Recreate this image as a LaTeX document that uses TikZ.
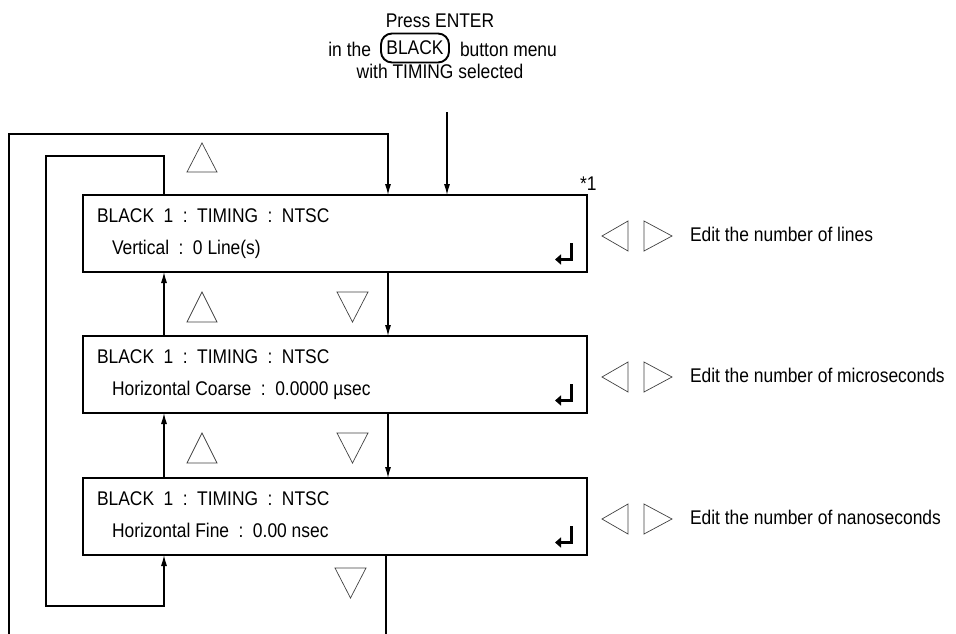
\documentclass[tikz,border=0pt]{standalone}
\usepackage{fontspec}
\setmainfont{Liberation Sans}[FakeStretch=0.88]
\usetikzlibrary{arrows.meta,calc}
\newcommand\kgap{\hspace{9.5pt}}
\begin{document}
\begin{tikzpicture}[x=1pt,y=-1pt,
  every node/.style={font=\fontsize{19.8}{23}\selectfont,inner sep=0pt,outer sep=0pt},
  menubox/.style={draw,line width=2.6pt,minimum width=504pt,minimum height=77pt},
  conn/.style={line width=1.1pt},
  arr/.style={conn,-{Latex[length=11pt,width=6pt]}},
  keytri/.style={draw=black!75,line width=0.7pt},
  ret/.style={line width=2.6pt,-{Triangle[length=6pt,width=10pt]}}
]
\useasboundingbox (0,0) rectangle (956,634);

% header
\node[anchor=base] (p1) at (440,28) {Press ENTER};
\node[anchor=base east] (p2a) at (371,57) {in the};
\node[draw,line width=1.9pt,rounded corners=11pt,minimum width=68pt,minimum height=29pt] (btn) at (415,48) {BLACK};
\node[anchor=base west] (p2b) at (460,57) {button menu};
\node[anchor=base] (p3) at (440,78) {with TIMING selected};
\node[anchor=base west] (star) at (580,190) {*1};

% menu boxes
\node[menubox] (b1) at (335,233.5) {};
\node[menubox] (b2) at (335,374.5) {};
\node[menubox] (b3) at (335,516.5) {};

\node[anchor=base west] (b1l1) at ($(b1.north west)+(14,27)$) {BLACK\kgap 1\kgap :\kgap TIMING\kgap :\kgap NTSC};
\node[anchor=base west] (b1l2) at ($(b1.north west)+(29,59)$) {Vertical\kgap :\kgap 0 Line(s)};
\node[anchor=base west] (b2l1) at ($(b2.north west)+(14,27)$) {BLACK\kgap 1\kgap :\kgap TIMING\kgap :\kgap NTSC};
\node[anchor=base west] (b2l2) at ($(b2.north west)+(29,59)$) {Horizontal Coarse\kgap :\kgap 0.0000 µsec};
\node[anchor=base west] (b3l1) at ($(b3.north west)+(14,27)$) {BLACK\kgap 1\kgap :\kgap TIMING\kgap :\kgap NTSC};
\node[anchor=base west] (b3l2) at ($(b3.north west)+(29,59)$) {Horizontal Fine\kgap :\kgap 0.00 nsec};

% return symbols
\foreach \b in {b1,b2,b3}{
  \draw[ret] ($(\b.north east)+(-15.5,48)$) -- ($(\b.north east)+(-15.5,64.5)$) -- ($(\b.north east)+(-32,64.5)$);
}

% left/right keys and descriptions
\foreach \b/\txt in {b1/lines,b2/microseconds,b3/nanoseconds}{
  \draw[keytri] ($(\b.east)+(41,-12.5)$) -- ($(\b.east)+(41,17.5)$) -- ($(\b.east)+(15,2.5)$) -- cycle;
  \draw[keytri] ($(\b.east)+(57,-12.5)$) -- ($(\b.east)+(57,17.5)$) -- ($(\b.east)+(85,2.5)$) -- cycle;
  \node[anchor=base west] at ($(\b.east)+(103,7.5)$) {Edit the number of \txt};
}

% up / down keys
\foreach \yt/\yb in {143/172,292/322,433/463}{
  \draw[keytri] (187,\yb) -- (217,\yb) -- (202,\yt) -- cycle;
}
\foreach \yt/\yb/\xo in {292/322/337,433/463/337,568/598/335}{
  \draw[keytri] (\xo,\yt) -- (\xo+31,\yt) -- (\xo+15.5,\yb) -- cycle;
}

% connectors
\coordinate (dn) at (388,0);
\coordinate (upx) at (164,0);
\coordinate (enter) at (447,112);
\coordinate (il1) at (46,156);
\coordinate (il2) at (164,606);
\coordinate (ol0) at (9,634);
\coordinate (ol1) at (388,134);
\coordinate (bot) at (386,634);

\draw[arr] (enter) -- (b1.north -| enter);
\draw[arr] (b1.south -| dn) -- (b2.north -| dn);
\draw[arr] (b2.south -| dn) -- (b3.north -| dn);
\draw[arr] (b2.north -| upx) -- (b1.south -| upx);
\draw[arr] (b3.north -| upx) -- (b2.south -| upx);
\draw[arr] (b1.north -| upx) |- (il1) |- (il2) -- (b3.south -| upx);
\draw[arr] (ol0) |- (ol1) -- (b1.north -| ol1);
\draw[conn] (b3.south -| bot) -- (bot);
\end{tikzpicture}
\end{document}
